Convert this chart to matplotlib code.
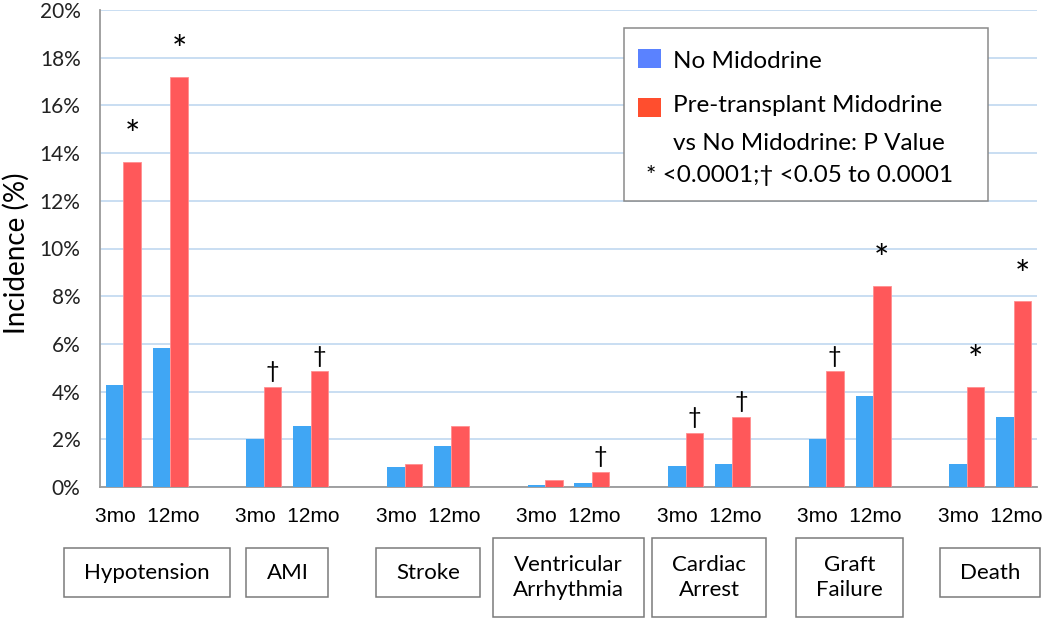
import matplotlib
matplotlib.use("Agg")
import matplotlib.pyplot as plt
from matplotlib.patches import Rectangle
from matplotlib.transforms import blended_transform_factory, IdentityTransform
from matplotlib.ticker import FuncFormatter

# ---------------- data ----------------
categories = ["Hypotension", "AMI", "Stroke", "Ventricular\nArrhythmia",
              "Cardiac\nArrest", "Graft\nFailure", "Death"]
periods = ["3mo", "12mo"]
# values in %, ordered [3mo, 12mo] per category
no_midodrine = [[4.26, 5.84], [2.00, 2.56], [0.85, 1.73], [0.08, 0.15],
                [0.88, 0.96], [2.00, 3.82], [0.96, 2.95]]
pre_midodrine = [[13.63, 17.21], [4.19, 4.85], [0.95, 2.57], [0.31, 0.63],
                 [2.26, 2.94], [4.85, 8.43], [4.21, 7.79]]
significance = [["*", "*"], ["†", "†"], ["", ""], ["", "†"],
                ["†", "†"], ["†", "*"], ["*", "*"]]
series_labels = ["No Midodrine", "Pre-transplant Midodrine"]
legend_note = ["vs No Midodrine: P Value", "* <0.0001;† <0.05 to 0.0001"]
y_ticks = [0, 2, 4, 6, 8, 10, 12, 14, 16, 18, 20]
y_label = "Incidence (%)"

# ---------------- style ----------------
BLUE = "#40A6F4"
RED = "#FF585A"
LEG_BLUE = "#5A82FF"
LEG_RED = "#FF4E2E"
GRID = "#C9DEF2"
FONT = ["Lato", "DejaVu Sans"]
NARROW = ["Liberation Sans", "DejaVu Sans"]

W, H = 1050, 618
fig = plt.figure(figsize=(W / 100, H / 100), dpi=100)
ax = fig.add_axes([100 / W, 1 - 487 / H, (1037 - 100) / W, (487 - 10) / H])

bw = 0.374
for g, cat in enumerate(categories):
    for p in range(len(periods)):
        x = 3 * g + p
        ax.bar(x - bw / 2, no_midodrine[g][p], width=bw, color=BLUE,
               edgecolor="none", zorder=3)
        ax.bar(x + bw / 2, pre_midodrine[g][p], width=bw, color=RED,
               edgecolor="#FF8F90", linewidth=0.6, zorder=3)
        sym = significance[g][p]
        if sym:
            off = 18 if sym == "*" else 11
            fs = 26 if sym == "*" else 17
            ax.annotate(sym, (x + bw / 2, pre_midodrine[g][p]),
                        xytext=(0, off), textcoords="offset points",
                        ha="center", va="center", fontsize=fs,
                        family=FONT, color="black", zorder=5)

ax.set_xlim(-0.5, 3 * len(categories) - 1 - 0.5)
ax.set_ylim(0, 20)
ax.set_yticks(y_ticks)
ax.yaxis.set_major_formatter(FuncFormatter(lambda v, _: f"{v:.0f}%"))
ax.set_xticks([])
ax.tick_params(axis="y", length=0, pad=14, labelsize=15)
for lab in ax.get_yticklabels():
    lab.set_family(FONT)
    lab.set_color("#222222")
ax.yaxis.grid(True, color=GRID, linewidth=1.4, zorder=0)
ax.set_axisbelow(True)
for s in ["top", "right"]:
    ax.spines[s].set_visible(False)
for s in ["left", "bottom"]:
    ax.spines[s].set_color("#9A9A9A")
    ax.spines[s].set_linewidth(1.3)
ax.set_ylabel(y_label, fontsize=20, family=FONT)
ax.yaxis.set_label_coords((30 - 100) / 937, 0.49)

# period labels and category boxes under the axis
btrans = blended_transform_factory(ax.transData, fig.transFigure)
texts = []
for g, cat in enumerate(categories):
    cx = 3 * g + 0.5
    ax.text(cx, 1 - 516 / H, "  ".join(periods), transform=btrans,
            ha="center", va="center", fontsize=15, family=NARROW,
            color="black", clip_on=False)
    two = "\n" in cat
    yc = 577.5 if two else 572.7
    t = ax.text(cx, 1 - yc / H, cat, transform=btrans, ha="center",
                va="center", fontsize=16, family=FONT, color="black",
                linespacing=1.35, clip_on=False)
    texts.append((t, two, yc))

fig.canvas.draw()
r = fig.canvas.get_renderer()
for t, two, yc in texts:
    bb = t.get_window_extent(r)
    bh = 79 if two else 49
    cxp = (bb.x0 + bb.x1) / 2
    wpx = bb.width + 40
    fig.add_artist(Rectangle((cxp - wpx / 2, (H - yc) - bh / 2), wpx, bh,
                             transform=IdentityTransform(), fill=False,
                             edgecolor="#7A7A7A", linewidth=1.1))

# legend (manual layout)
def fx(px):
    return px / W

def fy(py):
    return 1 - py / H

fig.add_artist(Rectangle((fx(624), fy(201)), fx(988 - 624), (201 - 28) / H,
                         transform=fig.transFigure, facecolor="white",
                         edgecolor="#8A8A8A", linewidth=1.1, zorder=10))
fig.add_artist(Rectangle((fx(638), fy(68)), fx(23), 19 / H,
                         transform=fig.transFigure, facecolor=LEG_BLUE,
                         edgecolor="none", zorder=11))
fig.add_artist(Rectangle((fx(638), fy(117)), fx(23), 19 / H,
                         transform=fig.transFigure, facecolor=LEG_RED,
                         edgecolor="none", zorder=11))
LFS = 17.5
fig.text(fx(673), fy(61), series_labels[0], fontsize=LFS, family=FONT,
         va="center", ha="left", zorder=12)
fig.text(fx(673), fy(106), series_labels[1], fontsize=LFS, family=FONT,
         va="center", ha="left", zorder=12)
fig.text(fx(673), fy(143), legend_note[0], fontsize=LFS, family=FONT,
         va="center", ha="left", zorder=12)
fig.text(fx(800), fy(175), legend_note[1], fontsize=LFS, family=FONT,
         va="center", ha="center", zorder=12)

fig.savefig("out.png", dpi=100, facecolor="white")
